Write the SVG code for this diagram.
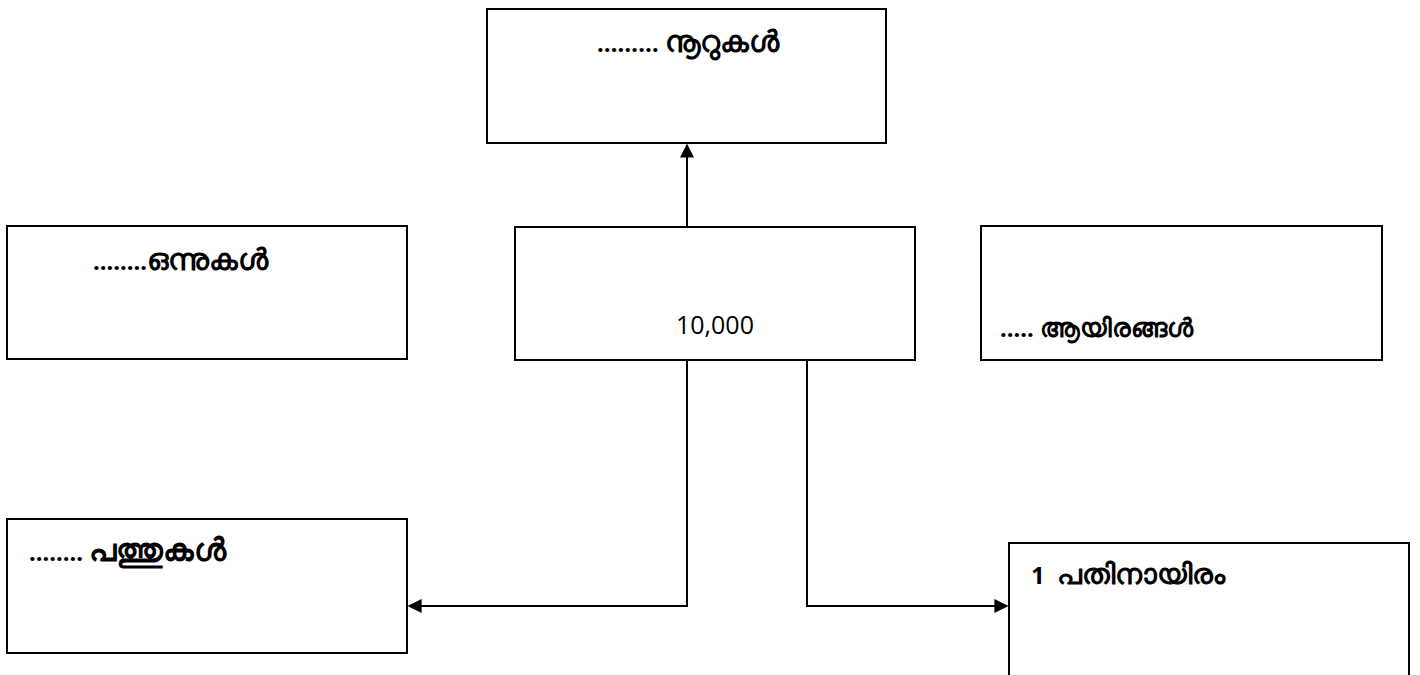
<svg xmlns="http://www.w3.org/2000/svg" width="1420" height="675" viewBox="0 0 1420 675">
<style>
.box{fill:#fff;stroke:#000;stroke-width:2}
.lbl{font-family:"Noto Sans","Open Sans","DejaVu Sans",sans-serif;font-size:24px;font-weight:bold;fill:#000;white-space:pre}
.ml{font-size:30px}
.num{font-family:"Open Sans","Noto Sans",sans-serif;font-size:25px;fill:#000}
.con{fill:none;stroke:#000;stroke-width:2}
</style>
<defs>
<marker id="arr" viewBox="0 0 10 10" refX="9" refY="5" markerWidth="7" markerHeight="7" markerUnits="strokeWidth" orient="auto">
<path d="M0,0 L10,5 L0,10 z" fill="#000"/>
</marker>
</defs>
<rect width="1420" height="675" fill="#fff"/>
<g id="connectors">
<path class="con" d="M687,226 L687,145" marker-end="url(#arr)"/>
<path class="con" d="M687,361 L687,606 L409,606" marker-end="url(#arr)"/>
<path class="con" d="M807,361 L807,606 L1007,606" marker-end="url(#arr)"/>
</g>
<g id="node-hundreds">
<rect class="box" x="487" y="9" width="399" height="134"/>
<text class="lbl" x="688" y="52" text-anchor="middle">……… <tspan class="ml">നൂറുകൾ</tspan></text>
</g>
<g id="node-ones">
<rect class="box" x="7" y="226" width="400" height="133"/>
<text class="lbl" x="93" y="270">........<tspan class="ml">ഒന്നുകൾ</tspan></text>
</g>
<g id="node-center">
<rect class="box" x="515" y="227" width="400" height="133"/>
<text class="num" x="715" y="334" text-anchor="middle">10,000</text>
</g>
<g id="node-thousands">
<rect class="box" x="981" y="226" width="401" height="134"/>
<text class="lbl" x="1000" y="337">..... <tspan class="ml" style="font-size:26px">ആയിരങ്ങൾ</tspan></text>
</g>
<g id="node-tens">
<rect class="box" x="7" y="519" width="400" height="134"/>
<text class="lbl" x="29" y="561">........ <tspan class="ml" style="font-size:32px">പത്തുകൾ</tspan></text>
</g>
<g id="node-tenthousand">
<rect class="box" x="1009" y="543" width="400" height="150"/>
<text class="lbl" x="1031" y="584" xml:space="preserve">1  <tspan class="ml" style="font-size:29px">പതിനായിരം</tspan></text>
</g>
</svg>
